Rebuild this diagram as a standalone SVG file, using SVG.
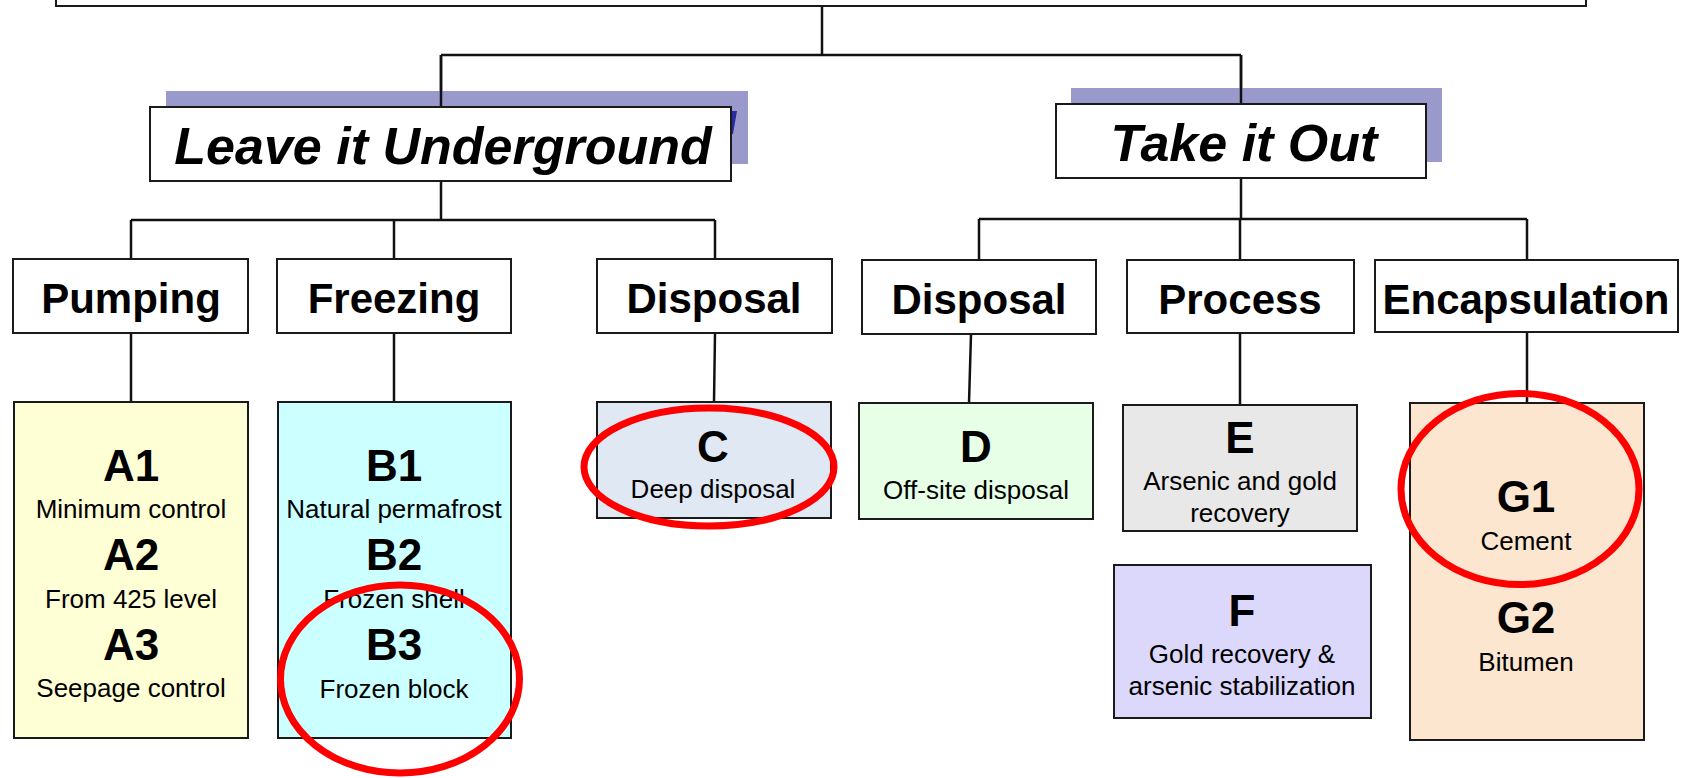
<svg xmlns="http://www.w3.org/2000/svg" width="1685" height="778" viewBox="0 0 1685 778">
<style>
.box{fill:#fff;stroke:#1a1a1a;stroke-width:2}
.shadow{fill:#9999CC}
.conn{fill:none;stroke:#111;stroke-width:2.5}
.t{font-family:"Liberation Sans",Arial,sans-serif;fill:#000;text-anchor:middle}
.h1{font-size:52px;font-weight:bold;font-style:italic}
.h2{font-size:42px;font-weight:bold}
.big{font-size:44px;font-weight:bold}
.sm{font-size:26px}
.ring{fill:none;stroke:#FF0000;stroke-width:7}
</style>
<rect width="1685" height="778" fill="#fff"/>
<g id="connectors">
<path class="conn" d="M822,6 V55 M441,55 H1241 M441,55 V107 M1241,55 V104"/>
<path class="conn" d="M441,181 V220 M131,220 H715 M131,220 V259 M394,220 V259 M715,220 V259"/>
<path class="conn" d="M1241,178 V219 M979,219 H1527 M979,219 V260 M1240,219 V260 M1527,219 V260"/>
<path class="conn" d="M131,333 V402 M394,333 V402 M715,333 L714,402 M971,334 L969,403 M1240,333 V405 M1527,333 V403"/>
</g>
<g id="root"><rect class="box" x="56" y="-20" width="1530" height="26"/></g>
<g id="leave-underground">
<rect class="shadow" x="166" y="91" width="582" height="73"/>
<polygon points="732,111 737,111 733,134 730,134" fill="#2B2BA0"/>
<path class="conn" d="M441,55 V107"/>
<rect class="box" x="150" y="107" width="581" height="74"/>
<text class="t h1" x="443" y="164">Leave it Underground</text>
</g>
<g id="take-out">
<rect class="shadow" x="1071" y="88" width="371" height="74"/>
<path class="conn" d="M1241,55 V104"/>
<rect class="box" x="1056" y="104" width="370" height="74"/>
<text class="t h1" x="1244" y="161">Take it Out</text>
</g>
<g id="pumping"><rect class="box" x="13" y="259" width="235" height="74"/><text class="t h2" x="131" y="313">Pumping</text></g>
<g id="freezing"><rect class="box" x="277" y="259" width="234" height="74"/><text class="t h2" x="394" y="313">Freezing</text></g>
<g id="disposal-left"><rect class="box" x="597" y="259" width="235" height="74"/><text class="t h2" x="714" y="313">Disposal</text></g>
<g id="disposal-right"><rect class="box" x="862" y="260" width="234" height="74"/><text class="t h2" x="979" y="314">Disposal</text></g>
<g id="process"><rect class="box" x="1127" y="260" width="227" height="73"/><text class="t h2" x="1240" y="314">Process</text></g>
<g id="encapsulation"><rect class="box" x="1375" y="260" width="303" height="72"/><text class="t h2" x="1526" y="314">Encapsulation</text></g>
<g id="A">
<rect class="box" x="14" y="402" width="234" height="336" style="fill:#FFFFD6"/>
<text class="t big" x="131" y="481">A1</text>
<text class="t sm" x="131" y="518">Minimum control</text>
<text class="t big" x="131" y="570">A2</text>
<text class="t sm" x="131" y="608">From 425 level</text>
<text class="t big" x="131" y="660">A3</text>
<text class="t sm" x="131" y="697">Seepage control</text>
</g>
<g id="B">
<rect class="box" x="278" y="402" width="233" height="336" style="fill:#CCFFFF"/>
<text class="t big" x="394" y="481">B1</text>
<text class="t sm" x="394" y="518">Natural permafrost</text>
<text class="t big" x="394" y="570">B2</text>
<text class="t sm" x="394" y="608">Frozen shell</text>
<text class="t big" x="394" y="660">B3</text>
<text class="t sm" x="394" y="698">Frozen block</text>
</g>
<g id="C">
<rect class="box" x="597" y="402" width="234" height="116" style="fill:#E0E8F4"/>
<text class="t big" x="713" y="462">C</text>
<text class="t sm" x="713" y="498">Deep disposal</text>
</g>
<g id="D">
<rect class="box" x="859" y="403" width="234" height="116" style="fill:#E6FFE6"/>
<text class="t big" x="976" y="462">D</text>
<text class="t sm" x="976" y="499">Off-site disposal</text>
</g>
<g id="E">
<rect class="box" x="1123" y="405" width="234" height="126" style="fill:#E8E8E8"/>
<text class="t big" x="1240" y="453">E</text>
<text class="t sm" x="1240" y="490">Arsenic and gold</text>
<text class="t sm" x="1240" y="522">recovery</text>
</g>
<g id="F">
<rect class="box" x="1114" y="565" width="257" height="153" style="fill:#DCD8FC"/>
<text class="t big" x="1242" y="626">F</text>
<text class="t sm" x="1242" y="663">Gold recovery &amp;</text>
<text class="t sm" x="1242" y="695">arsenic stabilization</text>
</g>
<g id="G">
<rect class="box" x="1410" y="403" width="234" height="337" style="fill:#FDE6CF"/>
<text class="t big" x="1526" y="512">G1</text>
<text class="t sm" x="1526" y="550">Cement</text>
<text class="t big" x="1526" y="633">G2</text>
<text class="t sm" x="1526" y="671">Bitumen</text>
</g>
<g id="highlights">
<ellipse class="ring" cx="709" cy="467" rx="125" ry="59"/>
<ellipse class="ring" cx="400" cy="679" rx="119.5" ry="94"/>
<ellipse class="ring" cx="1520" cy="489" rx="119" ry="95.5"/>
</g>
</svg>
